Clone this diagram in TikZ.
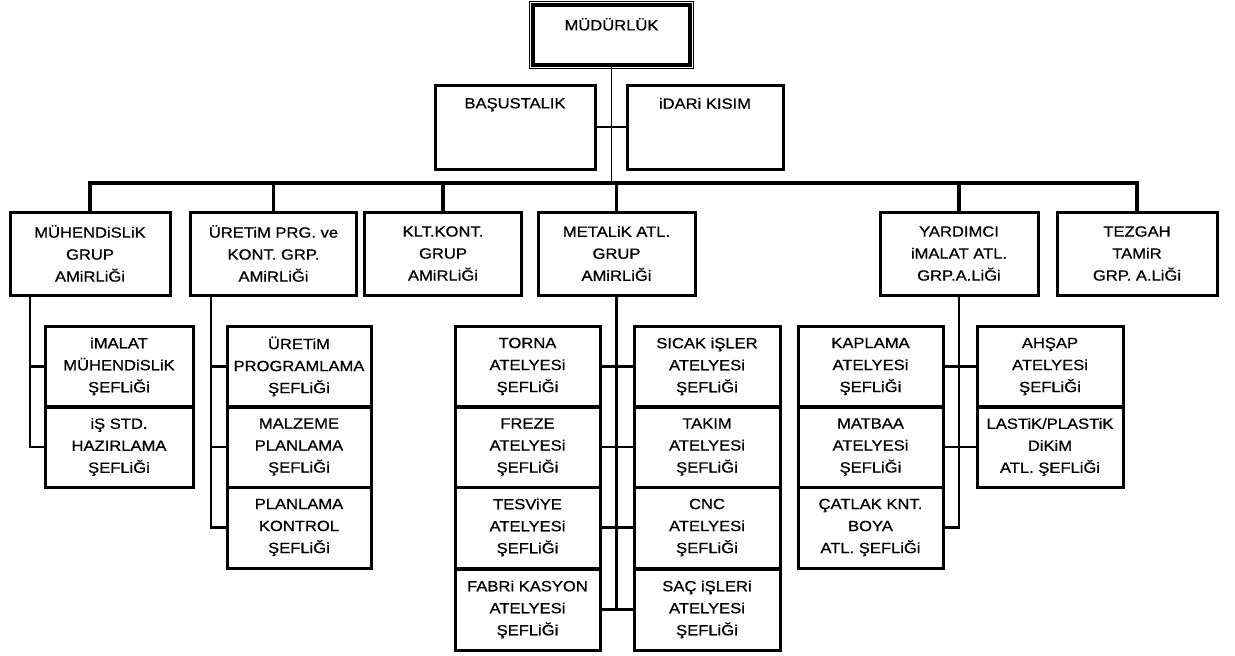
\documentclass[tikz,border=0pt]{standalone}
\usepackage{fontspec}
\setmainfont{Liberation Sans}[FakeStretch=1.12, FakeBold=0.7]
\begin{document}
\begin{tikzpicture}[x=1pt,y=-1pt,
  every node/.style={inner sep=0pt, outer sep=0pt},
  txt/.style={font=\fontsize{14.8}{22}\selectfont, align=center},
  box/.style={draw, line width=3pt, txt},
  sz/.style 2 args={minimum width=#1, minimum height=#2},
  toptext/.style={label={[txt, anchor=north, yshift=-13pt]north:#1}},
  link/.style={line width=2.2pt},
  thinlink/.style={line width=1.6pt},
  bus/.style={line width=3.4pt},
]
\useasboundingbox (0,0) rectangle (1235,656);

% --- top management ---
\node[box, line width=3.4pt, sz={157}{60}, toptext={MÜDÜRLÜK}] (mud) at (611.5,35) {};
\draw[line width=1.1pt] ([shift={(-3.5pt,3.5pt)}]mud.north west) rectangle ([shift={(3.5pt,-3.5pt)}]mud.south east);

\node[box, sz={160}{84}, toptext={BAŞUSTALIK}] (bas) at (515,127) {};
\node[box, sz={156}{84}, toptext={iDARi KISIM}] (ida) at (705,127) {};

\coordinate (bus) at (611.5,183);
\draw[thinlink] (mud.south) -- (bus);
\draw[thinlink] (bas.east) -- (ida.west);

% --- group leaders ---
\node[box, sz={160}{83}] (muh) at (90,253.5)    {MÜHENDiSLiK\\GRUP\\AMiRLiĞi};
\node[box, sz={166}{83}] (upr) at (273.5,253.5) {ÜRETiM PRG. ve\\KONT. GRP.\\AMiRLiĞi};
\node[box, sz={157}{83}] (klt) at (443,253.5)   {KLT.KONT.\\GRUP\\AMiRLiĞi};
\node[box, sz={157}{83}] (met) at (616.5,253.5) {METALiK ATL.\\GRUP\\AMiRLiĞi};
\node[box, sz={158}{83}] (yar) at (959,253.5)   {YARDIMCI\\iMALAT ATL.\\GRP.A.LiĞi};
\node[box, sz={160}{83}] (tez) at (1137,253.5)  {TEZGAH\\TAMiR\\GRP. A.LiĞi};

\foreach \g in {muh,upr,klt,met,yar,tez}
  \draw[bus] (bus) -| (\g.north);

% --- engineering ---
\node[box, sz={148}{81}] (imm) at (119,366.5) {iMALAT\\MÜHENDiSLiK\\ŞEFLiĞi};
\node[box, sz={148}{81}] (iss) at (119,447)   {iŞ STD.\\HAZIRLAMA\\ŞEFLiĞi};
\coordinate (tmuh) at (30,300);
\draw[link] (muh.south -| tmuh) |- (iss.west);
\draw[link] (tmuh |- imm.west) -- (imm.west);

% --- production planning ---
\node[box, sz={144}{81}] (upg) at (299,366.5) {ÜRETiM\\PROGRAMLAMA\\ŞEFLiĞi};
\node[box, sz={144}{81}] (mlz) at (299,447)   {MALZEME\\PLANLAMA\\ŞEFLiĞi};
\node[box, sz={144}{81}] (pkn) at (299,527.5) {PLANLAMA\\KONTROL\\ŞEFLiĞi};
\coordinate (tupr) at (211,300);
\draw[link] (upr.south -| tupr) |- (pkn.west);
\draw[link] (tupr |- upg.west) -- (upg.west);
\draw[link] (tupr |- mlz.west) -- (mlz.west);

% --- metal workshops ---
\node[box, sz={145}{81}] (tor) at (527.5,366.5) {TORNA\\ATELYESi\\ŞEFLiĞi};
\node[box, sz={145}{81}] (frz) at (527.5,447)   {FREZE\\ATELYESi\\ŞEFLiĞi};
\node[box, sz={145}{81}] (tsv) at (527.5,527.5) {TESViYE\\ATELYESi\\ŞEFLiĞi};
\node[box, sz={145}{81}] (fab) at (527.5,609.5) {FABRi KASYON\\ATELYESi\\ŞEFLiĞi};
\node[box, sz={146}{81}] (sic) at (707,366.5) {SICAK iŞLER\\ATELYESi\\ŞEFLiĞi};
\node[box, sz={146}{81}] (tak) at (707,447)   {TAKIM\\ATELYESi\\ŞEFLiĞi};
\node[box, sz={146}{81}] (cnc) at (707,527.5) {CNC\\ATELYESi\\ŞEFLiĞi};
\node[box, sz={146}{81}] (sac) at (707,609.5) {SAÇ iŞLERi\\ATELYESi\\ŞEFLiĞi};
\draw[link] (met.south) -- (met.south |- fab.east);
\draw[link] (tor.east) -- (sic.west);
\draw[link] (frz.east) -- (tak.west);
\draw[link] (tsv.east) -- (cnc.west);
\draw[link] (fab.east) -- (sac.west);

% --- auxiliary workshops ---
\node[box, sz={145}{81}] (kap) at (870.5,366.5) {KAPLAMA\\ATELYESi\\ŞEFLiĞi};
\node[box, sz={145}{81}] (mat) at (870.5,447)   {MATBAA\\ATELYESi\\ŞEFLiĞi};
\node[box, sz={145}{81}] (cat) at (870.5,527.5) {ÇATLAK KNT.\\BOYA\\ATL. ŞEFLiĞi};
\node[box, sz={146}{81}] (ahs) at (1050,366.5) {AHŞAP\\ATELYESi\\ŞEFLiĞi};
\node[box, sz={146}{81}] (las) at (1050,447)   {LASTiK/PLASTiK\\DiKiM\\ATL. ŞEFLiĞi};
\draw[link] (yar.south) -- (yar.south |- cat.east) -- (cat.east);
\draw[link] (kap.east) -- (ahs.west);
\draw[link] (mat.east) -- (las.west);
\end{tikzpicture}
\end{document}
